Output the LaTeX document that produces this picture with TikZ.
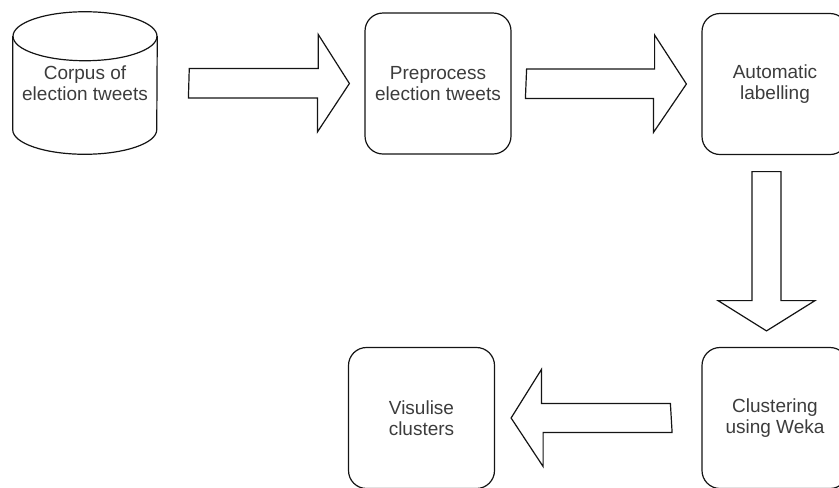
\documentclass[tikz,border=0pt]{standalone}
\usepackage{fontspec}
\setmainfont{Liberation Sans}
\usetikzlibrary{calc}
\definecolor{txt}{RGB}{60,60,60}
\definecolor{edge}{RGB}{20,20,20}
\begin{document}
\begin{tikzpicture}[x=0.75pt,y=-0.75pt,
  outline/.style={draw=edge,line width=0.9pt,line join=miter},
  label/.style={text=txt,align=center,inner sep=0pt,
    font=\fontsize{14.25pt}{15.75pt}\selectfont},
  stepbox/.style={outline,label,rounded corners=13.5pt,
    minimum width=109.5pt,minimum height=105.75pt},
  blockarrow/.style={outline,fill=white}]
\useasboundingbox (0,0) rectangle (839,487);
\clip (0,0) rectangle (839,487);

% data store drawn as a cylinder around its label
\node[label,minimum width=108pt,minimum height=106.5pt] (corpus) at (85,83)
  {Corpus of\\election tweets};
\draw[outline] ($(corpus.north west)+(0,24.5)$) -- ($(corpus.south west)+(0,-24.5)$)
  arc[start angle=180,end angle=360,x radius=54pt,y radius=18.375pt]
  -- ($(corpus.north east)+(0,24.5)$);
\draw[outline] ($(corpus.north)+(0,24.5)$) ellipse[x radius=54pt,y radius=18.375pt];

% processing steps
\node[stepbox] (prep)  at (438,83.5)  {Preprocess\\election tweets};
\node[stepbox] (auto)  at (775,84)    {Automatic\\labelling};
\node[stepbox] (clust) at (775,418)   {Clustering\\using Weka};
\node[stepbox] (vis)   at (421.5,418) {Visulise\\clusters};

% block arrows between the steps
\draw[blockarrow] ($(corpus.east)+(32,-14.5)$) -- ++(129,0) -- ++(0,-34)
  -- ($(prep.west)+(-15,0)$) -- ++(-32,48.5) -- ++(0,-34) -- ++(-129,0) -- cycle;
\draw[blockarrow] ($(prep.east)+(15,-14.5)$) -- ++(128,0) -- ++(0,-34)
  -- ($(auto.west)+(-15,0)$) -- ++(-33,48.5) -- ++(0,-34) -- ++(-128,0) -- cycle;
\coordinate (down) at ($(auto.south)+(-8.5,16.5)$);
\draw[blockarrow] ($(down)+(-14.5,0)$) -- ($(down)+(-14.5,129)$) -- ($(down)+(-48.5,129)$)
  -- ($(clust.north)+(-8.5,-16)$) -- ($(down)+(48.5,129)$) -- ($(down)+(14.5,129)$)
  -- ($(down)+(14.5,0)$) -- cycle;
\draw[blockarrow] ($(clust.west)+(-31,-14.5)$) -- ++(-129,0) -- ++(0,-34)
  -- ($(vis.east)+(16,0)$) -- ++(32,48.5) -- ++(0,-34) -- ++(129,0) -- cycle;
\end{tikzpicture}
\end{document}
